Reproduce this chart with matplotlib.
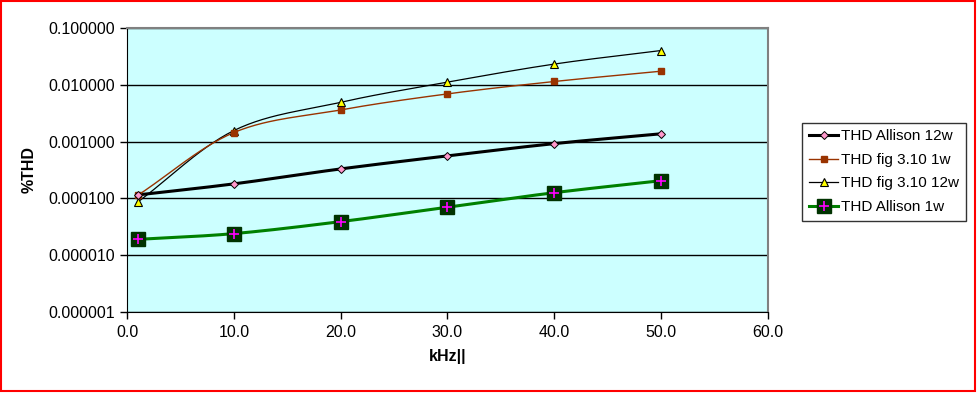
import numpy as np
import matplotlib.pyplot as plt
from matplotlib.lines import Line2D
from matplotlib.patches import Rectangle
from matplotlib.ticker import FixedLocator, FormatStrFormatter

plt.rcParams["font.family"] = ["Liberation Sans", "DejaVu Sans"]

khz = [1, 10, 20, 30, 40, 50]

allison_12w = [1.15e-4, 1.8e-4, 3.3e-4, 5.6e-4, 9.2e-4, 1.37e-3]
fig310_1w = [1.13e-4, 1.44e-3, 3.6e-3, 6.9e-3, 1.14e-2, 1.73e-2]
fig310_12w = [8.6e-5, 1.56e-3, 4.9e-3, 1.11e-2, 2.31e-2, 4.0e-2]
allison_1w = [1.9e-5, 2.4e-5, 3.9e-5, 7.0e-5, 1.26e-4, 2.05e-4]

y_ticks = [1e-6, 1e-5, 1e-4, 1e-3, 1e-2, 1e-1]
x_ticks = [0, 10, 20, 30, 40, 50, 60]


def smooth(xs, ys, n=30):
    # catmull-rom through the points in (x, log y), like excel's smoothed line
    px = np.array(xs, dtype=float)
    py = np.log10(np.array(ys, dtype=float))
    px = np.concatenate([[2 * px[0] - px[1]], px, [2 * px[-1] - px[-2]]])
    py = np.concatenate([[2 * py[0] - py[1]], py, [2 * py[-1] - py[-2]]])
    out_x, out_y = [], []
    t = np.linspace(0, 1, n)
    for i in range(1, len(px) - 2):
        for arr, out in ((px, out_x), (py, out_y)):
            p0, p1, p2, p3 = arr[i - 1], arr[i], arr[i + 1], arr[i + 2]
            out.extend(0.5 * ((2 * p1) + (-p0 + p2) * t
                              + (2 * p0 - 5 * p1 + 4 * p2 - p3) * t ** 2
                              + (-p0 + 3 * p1 - 3 * p2 + p3) * t ** 3))
    return np.array(out_x), 10 ** np.array(out_y)


fig = plt.figure(figsize=(9.77, 3.93), dpi=100)
ax = fig.add_axes([0.130, 0.206, 0.656, 0.723])
ax.set_facecolor("#CCFFFF")
ax.set_yscale("log")
ax.set_xlim(0, 60)
ax.set_ylim(1e-6, 1e-1)

for y in y_ticks:
    ax.axhline(y, color="black", lw=1, zorder=1)

sx, sy = smooth(khz, fig310_12w)
ax.plot(sx, sy, color="black", lw=0.9, zorder=2)
ax.plot(khz, fig310_12w, ls="none", marker="^", ms=6, mfc="#FFFF00",
        mec="black", mew=0.8, zorder=3)

sx, sy = smooth(khz, fig310_1w)
ax.plot(sx, sy, color="#993300", lw=1, zorder=2)
ax.plot(khz, fig310_1w, ls="none", marker="s", ms=5, mfc="#993300",
        mec="#993300", zorder=3)

sx, sy = smooth(khz, allison_12w)
ax.plot(sx, sy, color="black", lw=2.2, zorder=2)
ax.plot(khz, allison_12w, ls="none", marker="D", ms=4.5, mfc="#FF99CC",
        mec="black", mew=0.7, zorder=3)

sx, sy = smooth(khz, allison_1w)
ax.plot(sx, sy, color="#008000", lw=2.2, zorder=2)
ax.plot(khz, allison_1w, ls="none", marker="s", ms=9.5, mfc="#003300",
        mec="#003300", zorder=3)
ax.plot(khz, allison_1w, ls="none", marker="+", ms=7, mec="#FF00FF",
        mew=1.2, zorder=4)

ax.yaxis.set_major_locator(FixedLocator(y_ticks))
ax.yaxis.set_minor_locator(FixedLocator([]))
ax.yaxis.set_major_formatter(FormatStrFormatter("%.6f"))
ax.set_xticks(x_ticks)
ax.xaxis.set_major_formatter(FormatStrFormatter("%.1f"))
ax.tick_params(labelsize=11.5, length=5, width=1, direction="out", pad=4)

for side in ("top", "right"):
    ax.spines[side].set_color("#808080")
    ax.spines[side].set_linewidth(1.5)
for side in ("left", "bottom"):
    ax.spines[side].set_color("black")

ax.set_ylabel("%THD", fontsize=11.5, fontweight="bold", labelpad=8)
ax.set_xlabel("kHz||", fontsize=11.5, fontweight="bold", labelpad=7)

handles = [
    Line2D([], [], color="black", lw=2.2, marker="D", ms=4.5, mfc="#FF99CC",
           mec="black", mew=0.7),
    Line2D([], [], color="#993300", lw=1, marker="s", ms=5, mfc="#993300",
           mec="#993300"),
    Line2D([], [], color="black", lw=0.9, marker="^", ms=6, mfc="#FFFF00",
           mec="black", mew=0.8),
    (Line2D([], [], color="#008000", lw=2.2, marker="s", ms=9.5,
            mfc="#003300", mec="#003300"),
     Line2D([], [], ls="none", marker="+", ms=7, mec="#FF00FF", mew=1.2)),
]
labels = ["THD Allison 12w", "THD fig 3.10 1w", "THD fig 3.10 12w",
          "THD Allison 1w"]
leg = fig.legend(handles, labels, loc="upper left",
                 bbox_to_anchor=(0.821, 0.688), fontsize=11, frameon=True,
                 fancybox=False, edgecolor="black", handlelength=1.9,
                 handletextpad=0.2, labelspacing=0.62, borderpad=0.45,
                 borderaxespad=0)
leg.get_frame().set_linewidth(1)

fig.patches.append(Rectangle((0.001, 0.004), 0.997, 0.994,
                             transform=fig.transFigure, fill=False,
                             edgecolor="red", lw=1.5))

fig.savefig("out.png", dpi=100)
